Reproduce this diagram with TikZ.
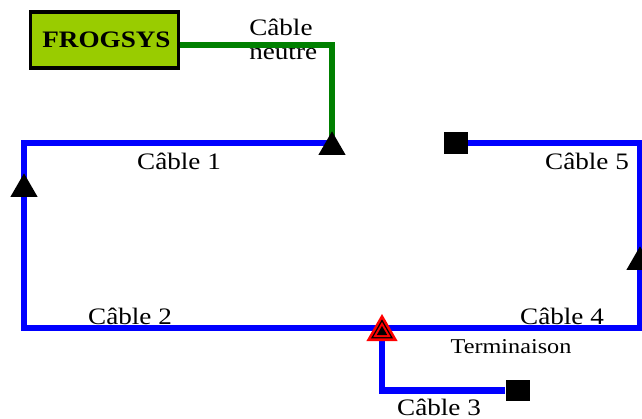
\documentclass[tikz,border=0pt]{standalone}
\usepackage{fontspec}
\setmainfont[FakeStretch=1.15]{Liberation Serif}
\usetikzlibrary{shapes.geometric}
\definecolor{frog}{HTML}{99CC00}
\definecolor{neutre}{HTML}{008000}
\tikzset{
	cable/.style={line width=4.8pt,blue},
	neutral/.style={line width=4.1pt,neutre},
	tap/.style={regular polygon,regular polygon sides=3,fill=black,inner sep=0pt,minimum size=23.5pt,yshift=-3pt},
	stopper/.style={rectangle,fill=black,inner sep=0pt,minimum width=18pt,minimum height=16pt},
	label/.style={font=\fontsize{17.7}{18}\selectfont,inner sep=0pt}
}
\begin{document}
\begin{tikzpicture}[x=7.5pt,y=-7.5pt]
		\useasboundingbox (0,0) rectangle (64.2,41.8);
		%neutral cable text goes under the line
		\node[label,align=left,anchor=north west] (neutre) at (24.9,1.85) {Câble\\neutre};
		
		%junctions
		\coordinate (j1) at (33.2,14.3);
		\coordinate (j2) at (2.4,18.5);
		\coordinate (j3) at (38.2,32.8);
		\coordinate (j4) at (64.0,25.8);
		
		%box and stoppers
		\node[draw,line width=2.8pt,fill=frog,minimum width=111pt,minimum height=42.5pt,inner sep=0pt,font=\fontsize{17.7}{20}\selectfont\bfseries] (frogsys) at (10.45,4.0) {\hspace{3pt}\raisebox{-3pt}{FROGSYS}};
		\node[stopper] (stop5) at (45.6,14.3) {};
		\node[stopper] (stop3) at (51.75,39.05) {};
		
		%cables
		\draw[neutral] ([yshift=-3.75pt]frogsys.east) -| (j1);
		\draw[cable] (j1) -| (j2);
		\draw[cable] (j2) |- (j3);
		\draw[cable] (j3) |- (stop3);
		\draw[cable] (j3) -| (j4);
		\draw[cable] (j4) |- (stop5);
		
		%taps
		\node[tap] (tap1) at (j1) {};
		\node[tap] (tap2) at (j2) {};
		\node[tap] (tap4) at (j4) {};
		%termination is nested triangles
		\node[tap,fill=red,minimum size=27pt] (term) at (j3) {};
		\node[tap,fill=black,minimum size=19pt] (termring) at (j3) {};
		\node[tap,fill=red,minimum size=15pt] (termfill) at (j3) {};
		\node[tap,fill=black,minimum size=9pt] (termcore) at (j3) {};
		
		%labels
		\node[label] (c1) at (17.9,16.1) {Câble 1};
		\node[label] (c2) at (13.0,31.6) {Câble 2};
		\node[label,anchor=base] (c3) at (43.9,41.5) {Câble 3};
		\node[label] (c4) at (56.2,31.6) {Câble 4};
		\node[label] (c5) at (58.7,16.1) {Câble 5};
		\node[label,font=\fontsize{15.8}{20}\selectfont] (termtext) at (51.1,34.7) {Terminaison};
\end{tikzpicture}
\end{document}
